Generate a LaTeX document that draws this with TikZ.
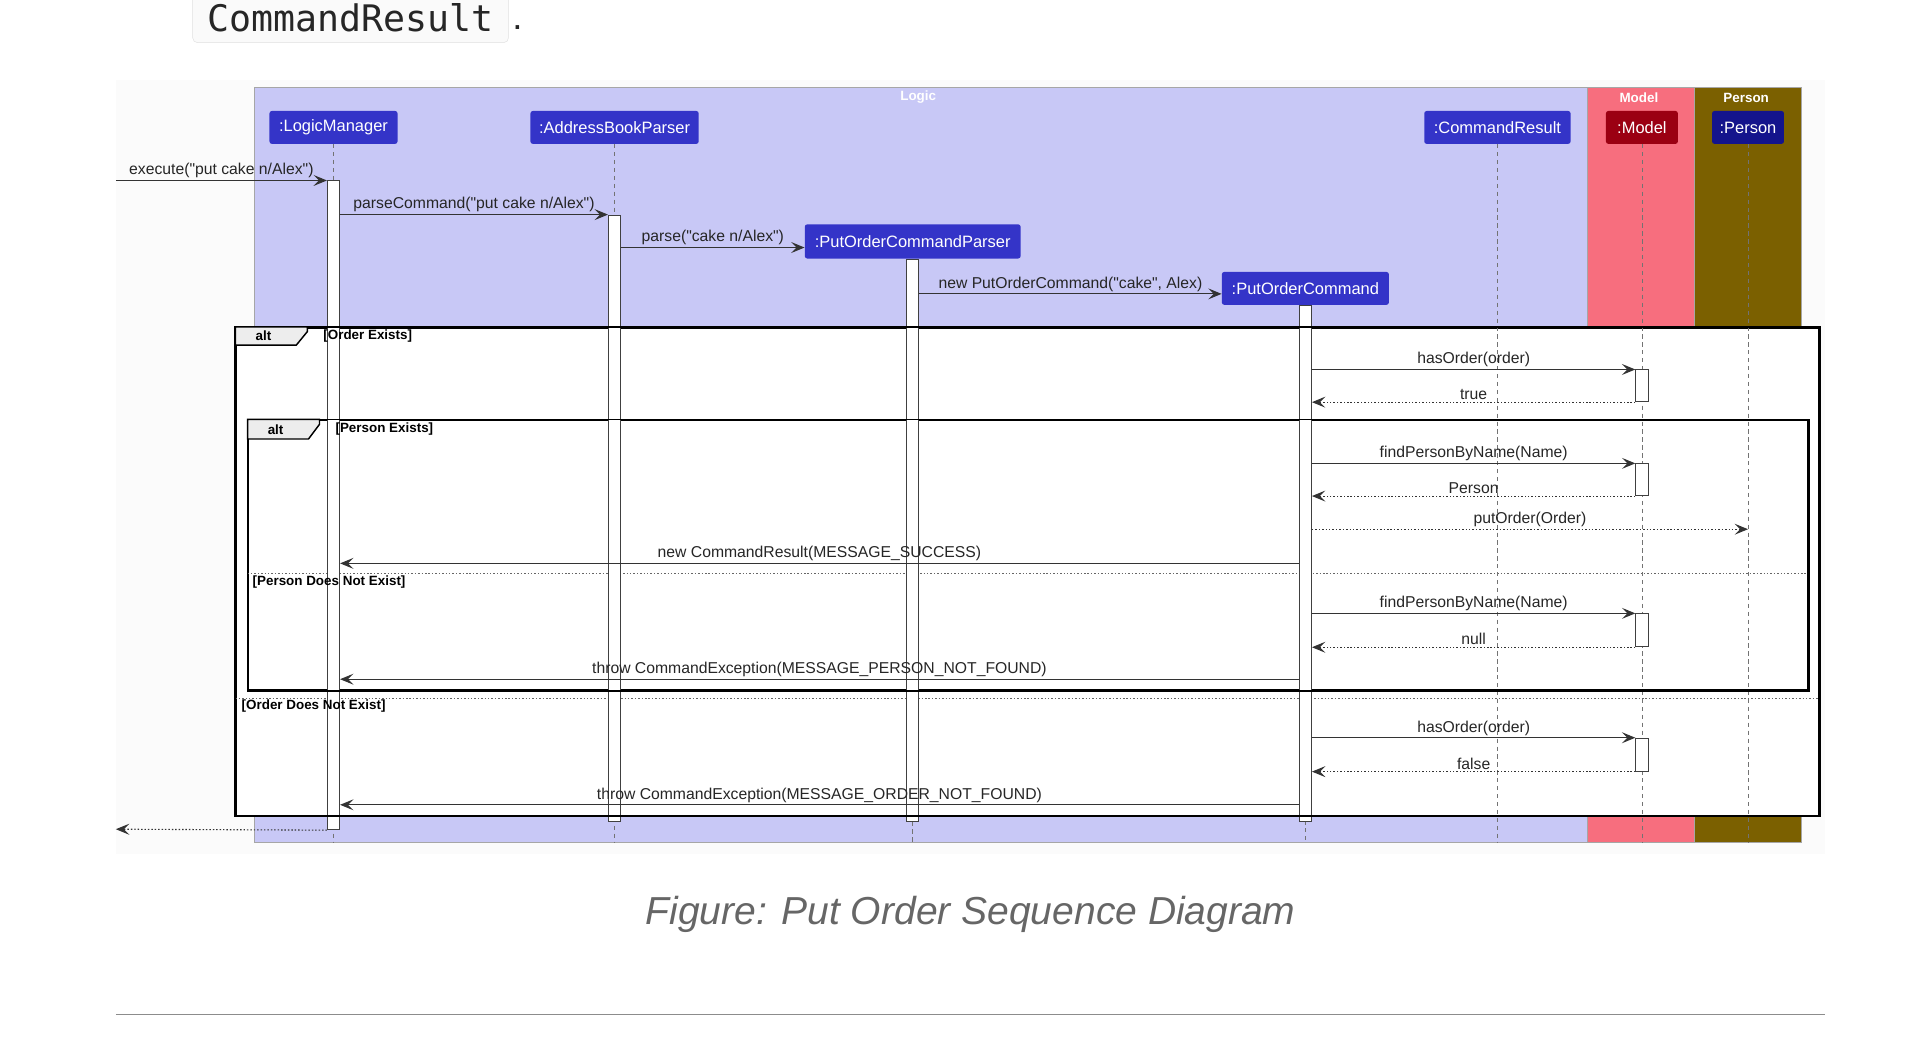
\documentclass[tikz,border=0pt]{standalone}
\usepackage{fontspec}
\setmainfont{Liberation Sans}[Ligatures=TeXOff]
\newfontfamily\codefont{DejaVu Sans Mono}
\usepackage{xcolor}
\usepackage{tikz}
\usetikzlibrary{arrows.meta}

\definecolor{logicbg}{HTML}{C8C8F6}
\definecolor{modelbg}{HTML}{F76E7E}
\definecolor{personbg}{HTML}{7B6000}
\definecolor{partblue}{HTML}{3434C8}
\definecolor{partred}{HTML}{9B0012}
\definecolor{partnavy}{HTML}{14148C}
\definecolor{capgray}{HTML}{666666}

\tikzset{
  grp/.style={draw=black!35, line width=0.8pt},
  grptitle/.style={text=white, font=\bfseries\fontsize{11}{12}\selectfont},
  part/.style={rounded corners=2pt, text=white, inner sep=0pt, minimum height=27pt,
    font=\fontsize{13.5}{14}\selectfont},
  lifeline/.style={draw=black!55, line width=0.7pt, dash pattern=on 3.5pt off 3pt},
  act/.style={draw=black!75, fill=white, line width=0.8pt, minimum width=10pt, inner sep=0pt, anchor=north},
  msg/.style={draw=black!80, line width=0.9pt, ->},
  ret/.style={msg, dash pattern=on 1.2pt off 1.6pt},
  lbl/.style={font=\fontsize{12.9}{13}\selectfont, text=black!85, inner sep=1.5pt},
  altframe/.style={draw=black, line width=1.4pt, inner sep=0pt, anchor=north west},
  tabbox/.style={fill=black!7, draw=black, line width=1.2pt},
  tabtext/.style={font=\bfseries\fontsize{11}{12}\selectfont},
  guard/.style={font=\bfseries\fontsize{11}{12}\selectfont, anchor=west, inner sep=0pt},
  divider/.style={draw=black!60, line width=0.8pt, dash pattern=on 1.2pt off 1.6pt}
}

\begin{document}
\begin{tikzpicture}[x=1pt, y=-1pt, >={Stealth[length=11pt, width=9pt, inset=4.5pt]}]
        \useasboundingbox (0,0) rectangle (1568,856);

        % Text oberhalb
        \node[draw=black!12, fill=black!2, rounded corners=4pt, minimum width=259pt, minimum height=41pt,
              inner sep=0pt, font=\codefont\fontsize{30}{30}\selectfont, text=black!85] (code) at (287.5,14.5) {CommandResult};
        \node[anchor=base west, inner sep=0pt, font=\fontsize{30}{30}\selectfont, text=black!85] (dot) at (420,24) {.};

        % Hintergrund
        \fill[black!1.5] (95,66) rectangle (1497,700);

        % Gruppen
        \draw[grp, fill=logicbg] (209,72) rectangle (1302,691);
        \draw[grp, fill=modelbg] (1302,72) rectangle (1390,691);
        \draw[grp, fill=personbg] (1390,72) rectangle (1477,691);
        \node[grptitle] (tlogic) at (753,80) {Logic};
        \node[grptitle] (tmodel) at (1344,80) {Model};
        \node[grptitle] (tperson) at (1432,80) {Person};

        % Teilnehmer
        \node[part, fill=partblue, minimum width=105pt] (lm) at (273.5,104.5) {:LogicManager};
        \node[part, fill=partblue, minimum width=138pt] (abp) at (504,104.5) {:AddressBookParser};
        \node[part, fill=partblue, minimum width=177pt, minimum height=28pt] (pocp) at (748.5,198) {:PutOrderCommandParser};
        \node[part, fill=partblue, minimum width=137pt] (poc) at (1070.5,236.5) {:PutOrderCommand};
        \node[part, fill=partblue, minimum width=120pt] (cr) at (1228,104.5) {:CommandResult};
        \node[part, fill=partred, minimum width=59pt] (mod) at (1346.5,104.5) {:Model};
        \node[part, fill=partnavy, minimum width=59pt] (per) at (1433.5,104.5) {:Person};

        % alt-Rahmen (Flaechen)
        \node[altframe, fill=white, minimum width=1298pt, minimum height=400pt] (alt1) at (193,268) {};
        \node[altframe, fill=white, minimum width=1279pt, minimum height=221pt] (alt2) at (203,344) {};
        \draw[divider] (alt2.west |- 0,470) -- (alt2.east |- 0,470);
        \draw[divider] (alt1.west |- 0,573) -- (alt1.east |- 0,573);

        % Lebenslinien
        \foreach \p in {lm,abp,pocp,poc,cr,mod,per}
            \draw[lifeline] (\p.south) -- (\p.south |- 0,691);

        % Aktivierungen
        \node[act, minimum height=532pt] (alm) at (lm.south |- 0,148) {};
        \node[act, minimum height=497pt] (aabp) at (abp.south |- 0,176) {};
        \node[act, minimum height=461pt] (apocp) at (pocp.south) {};
        \node[act, minimum height=423pt] (apoc) at (poc.south) {};
        \node[act, minimum height=26pt] (am1) at (mod.south |- 0,303) {};
        \node[act, minimum height=26pt] (am2) at (mod.south |- 0,380) {};
        \node[act, minimum height=27pt] (am3) at (mod.south |- 0,503) {};
        \node[act, minimum height=27pt] (am4) at (mod.south |- 0,605) {};

        % Rahmenlinien oben
        \draw[altframe] (alt1.north west) rectangle (alt1.south east);
        \draw[altframe] (alt2.north west) rectangle (alt2.south east);

        % Nachrichten
        \coordinate (entry) at (95,148);
        \coordinate (exit) at (95,680);
        \draw[msg] (entry) -- (alm.north west) node[lbl, midway, above] (l1) {execute("put cake n/Alex")};
        \draw[msg] (alm.east |- aabp.north) -- (aabp.north west) node[lbl, midway, above] (l2) {parseCommand("put cake n/Alex")};
        \draw[msg] (aabp.east |- 0,203) -- (pocp.west |- 0,203) node[lbl, midway, above] (l3) {parse("cake n/Alex")};
        \draw[msg] (apocp.east |- 0,241) -- (poc.west |- 0,241) node[lbl, midway, above] (l4) {new PutOrderCommand("cake", Alex)};

        \draw[msg] (apoc.east |- am1.north) -- (am1.north west) node[lbl, midway, above] (l5) {hasOrder(order)};
        \draw[ret] (am1.south west) -- (apoc.east |- am1.south) node[lbl, midway, above] (l6) {true};

        \draw[msg] (apoc.east |- am2.north) -- (am2.north west) node[lbl, midway, above] (l7) {findPersonByName(Name)};
        \draw[ret] (am2.south west) -- (apoc.east |- am2.south) node[lbl, midway, above] (l8) {Person};
        \draw[ret] (apoc.east |- 0,434) -- (per |- 0,434) node[lbl, midway, above] (l9) {putOrder(Order)};
        \draw[msg] (apoc.west |- 0,462) -- (alm.east |- 0,462) node[lbl, midway, above] (l10) {new CommandResult(MESSAGE\_SUCCESS)};

        \draw[msg] (apoc.east |- am3.north) -- (am3.north west) node[lbl, midway, above] (l11) {findPersonByName(Name)};
        \draw[ret] (am3.south west) -- (apoc.east |- am3.south) node[lbl, midway, above] (l12) {null};
        \draw[msg] (apoc.west |- 0,557) -- (alm.east |- 0,557) node[lbl, midway, above] (l13) {throw CommandException(MESSAGE\_PERSON\_NOT\_FOUND)};

        \draw[msg] (apoc.east |- am4.north) -- (am4.north west) node[lbl, midway, above] (l14) {hasOrder(order)};
        \draw[ret] (am4.south west) -- (apoc.east |- am4.south) node[lbl, midway, above] (l15) {false};
        \draw[msg] (apoc.west |- 0,660) -- (alm.east |- 0,660) node[lbl, midway, above] (l16) {throw CommandException(MESSAGE\_ORDER\_NOT\_FOUND)};

        \draw[ret] (alm.south west) -- (exit);

        % Reiter und Bedingungen
        \draw[tabbox] (alt1.north west) -- ++(59,0) -- ++(0,4) -- ++(-9,11) -- ++(-50,0) -- cycle;
        \node[tabtext] (tab1) at ([shift={(23,7.5)}]alt1.north west) {alt};
        \node[guard] (g1) at ([shift={(72,7.5)}]alt1.north west) {[Order Exists]};
        \draw[tabbox] (alt2.north west) -- ++(59,0) -- ++(0,4) -- ++(-9,12) -- ++(-50,0) -- cycle;
        \node[tabtext] (tab2) at ([shift={(23,8)}]alt2.north west) {alt};
        \node[guard] (g2) at ([shift={(72,8)}]alt2.north west) {[Person Exists]};
        \node[guard] (g3) at (207,477) {[Person Does Not Exist]};
        \node[guard] (g4) at (198,579) {[Order Does Not Exist]};

        % Bildunterschrift
        \node[font=\itshape\fontsize{32}{36}\selectfont, text=capgray] (cap) at (796,750) {Figure: Put Order Sequence Diagram};
        \draw[black!45, line width=1.5pt] (95,832) -- (1497,832);
\end{tikzpicture}
\end{document}
